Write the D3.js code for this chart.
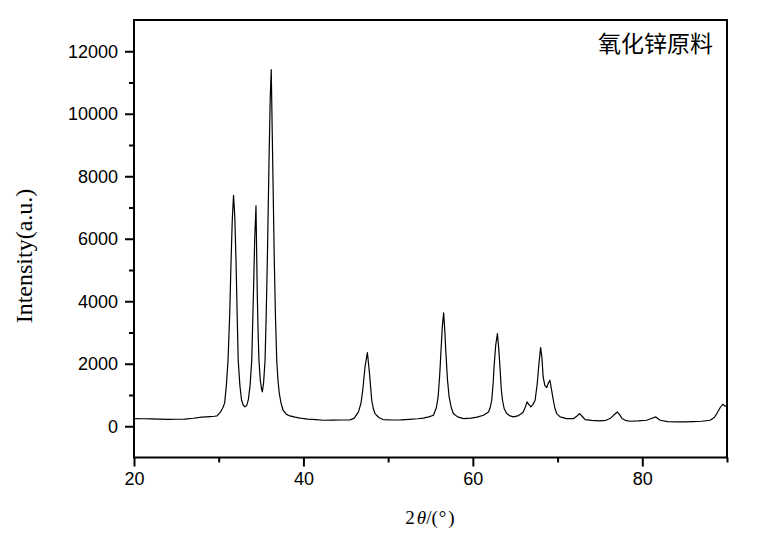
<!DOCTYPE html>
<html>
<head>
<meta charset="utf-8">
<script src="https://cdn.jsdelivr.net/npm/d3@7"></script>
<style>
  html, body { margin: 0; padding: 0; background: #fff; }
  svg { display: block; }
</style>
</head>
<body>
<svg id="chart" width="784" height="542"></svg>
<script>
// ---- data ----
const twoTheta = [
  20.0, 21.0, 22.0, 23.0, 24.0, 25.0, 26.0, 27.0, 28.0, 28.5, 29.0, 29.5, 29.8, 30.2, 30.5, 30.7, 30.9, 31.1, 31.3, 31.46,
  31.6, 31.75, 31.9, 32.04, 32.2, 32.3, 32.5, 32.7, 32.9, 33.1, 33.3, 33.5, 33.7, 33.9, 34.1, 34.25, 34.4, 34.55, 34.65, 34.75,
  34.9, 35.05, 35.15, 35.3, 35.47, 35.6, 35.74, 35.94, 36.08, 36.2, 36.37, 36.56, 36.7, 36.85, 37.0, 37.15, 37.35, 37.6, 38.0, 38.4,
  39.0, 39.6, 40.5, 41.5, 42.35, 43.5, 44.5, 45.5, 46.0, 46.5, 46.8, 47.0, 47.27, 47.55, 47.8, 48.06, 48.25, 48.45, 48.9, 49.4,
  50.5, 51.5, 52.5, 53.5, 54.15, 54.8, 55.35, 55.7, 55.9, 56.1, 56.24, 56.4, 56.55, 56.7, 56.8, 57.0, 57.2, 57.45, 57.7, 58.2,
  58.9, 59.8, 60.5, 61.25, 61.85, 62.05, 62.23, 62.4, 62.5, 62.7, 62.9, 63.05, 63.2, 63.35, 63.5, 63.7, 64.0, 64.4, 64.8, 65.3,
  65.7, 65.95, 66.2, 66.4, 66.6, 66.85, 67.1, 67.35, 67.6, 67.8, 68.0, 68.15, 68.3, 68.5, 68.72, 68.9, 69.1, 69.3, 69.5, 69.7,
  69.9, 70.3, 71.06, 71.9, 72.3, 72.6, 72.9, 73.25, 74.0, 75.0, 75.7, 76.2, 76.6, 77.05, 77.3, 77.6, 78.0, 78.55, 79.5, 80.5,
  81.0, 81.6, 82.1, 83.0, 84.1, 85.0, 86.0, 87.0, 88.0, 88.5, 88.8, 89.2, 89.5, 89.8, 90.0
];
const intensity = [
  246, 240, 235, 230, 220, 224, 230, 256, 290, 300, 310, 320, 330, 450, 600, 740, 1300, 2110, 3600, 5310,
  6600, 7390, 6700, 5310, 3300, 2110, 1300, 830, 680, 620, 660, 850, 1300, 2110, 4260, 6000, 7050, 4260, 3000, 2110,
  1500, 1200, 1100, 1400, 2110, 3500, 5310, 8510, 10500, 11410, 8510, 5310, 3500, 2110, 1450, 1056, 750, 512, 380, 330,
  290, 260, 230, 210, 192, 195, 200, 205, 260, 458, 750, 1152, 1898, 2360, 1686, 832, 560, 406, 280, 214,
  200, 205, 220, 240, 260, 300, 352, 600, 938, 1700, 2432, 3200, 3627, 3000, 2432, 1500, 938, 600, 406, 300,
  246, 260, 290, 352, 458, 600, 832, 1400, 1898, 2600, 2966, 2500, 1898, 1200, 832, 560, 406, 330, 298, 330,
  400, 458, 620, 778, 700, 618, 700, 832, 1366, 2000, 2518, 2200, 1578, 1300, 1238, 1380, 1472, 1150, 832, 560,
  406, 298, 246, 246, 330, 406, 320, 214, 190, 170, 190, 246, 350, 458, 380, 246, 190, 160, 170, 192,
  240, 298, 192, 150, 138, 140, 150, 160, 192, 280, 406, 600, 704, 640, 650
];
const xMajorTicks = [20, 40, 60, 80];
const xMinorTicks = [30, 50, 70, 90];
const yMajorTicks = [0, 2000, 4000, 6000, 8000, 10000, 12000];
const yMinorTicks = [1000, 3000, 5000, 7000, 9000, 11000];
const xDomain = [20, 90];
const yDomain = [-1000, 13000];
const legendText = "氧化锌原料";
const yTitle = "Intensity(a.u.)";

(function () {
  // ---- layout ----
  const pLeft = 134, pRight = 727, pTop = 20, pBottom = 457.5;
  const svg = d3.select("#chart");
  svg.append("rect").attr("width", 784).attr("height", 542).attr("fill", "#fff");

  const x = d3.scaleLinear().domain(xDomain).range([pLeft, pRight]);
  const y = d3.scaleLinear().domain(yDomain).range([pBottom, pTop]);

  const sansFont = "'Liberation Sans', Arial, sans-serif";
  const serifFont = "'Liberation Serif', 'Times New Roman', serif";

  // data line
  const pts = twoTheta.map((t, i) => [t, intensity[i]]);
  svg.append("path")
    .datum(pts)
    .attr("fill", "none")
    .attr("stroke", "#000")
    .attr("stroke-width", 1.2)
    .attr("stroke-linejoin", "round")
    .attr("d", d3.line().x(d => x(d[0])).y(d => y(d[1])));

  // bottom axis
  const gx = svg.append("g").attr("transform", `translate(0,${pBottom})`)
    .call(d3.axisBottom(x).tickValues(xMajorTicks).tickSize(9).tickSizeOuter(0).tickPadding(5).tickFormat(d3.format("d")));
  const gxMinor = svg.append("g").attr("transform", `translate(0,${pBottom})`)
    .call(d3.axisBottom(x).tickValues(xMinorTicks).tickSize(5).tickSizeOuter(0).tickFormat(""));
  // left axis
  const gy = svg.append("g").attr("transform", `translate(${pLeft},0)`)
    .call(d3.axisLeft(y).tickValues(yMajorTicks).tickSize(9).tickSizeOuter(0).tickPadding(7).tickFormat(d3.format("d")));
  const gyMinor = svg.append("g").attr("transform", `translate(${pLeft},0)`)
    .call(d3.axisLeft(y).tickValues(yMinorTicks).tickSize(5).tickSizeOuter(0).tickFormat(""));

  [gx, gxMinor, gy, gyMinor].forEach(g => {
    g.selectAll(".domain").remove();
    g.selectAll(".tick line").attr("stroke", "#000").attr("stroke-width", 2);
    g.selectAll(".tick text").attr("fill", "#000").style("font-family", sansFont).style("font-size", "18px");
  });
  gx.selectAll(".tick text").attr("dy", "0.75em");

  // frame
  svg.append("rect")
    .attr("x", pLeft).attr("y", pTop)
    .attr("width", pRight - pLeft).attr("height", pBottom - pTop)
    .attr("fill", "none").attr("stroke", "#000").attr("stroke-width", 2);

  // legend text
  svg.append("text")
    .attr("x", 598).attr("y", 51.5)
    .style("font-family", "'Noto Sans CJK SC', sans-serif")
    .style("font-size", "23px")
    .attr("fill", "#000")
    .text(legendText);

  // y title
  svg.append("text")
    .attr("transform", "translate(32,256) rotate(-90)")
    .attr("text-anchor", "middle")
    .style("font-family", serifFont)
    .style("font-size", "24px")
    .attr("fill", "#000")
    .text(yTitle);

  // x title
  const xt = svg.append("text")
    .attr("x", 430).attr("y", 523.5)
    .attr("text-anchor", "middle")
    .style("font-family", serifFont)
    .style("font-size", "19px")
    .attr("fill", "#000");
  xt.append("tspan").text("2");
  xt.append("tspan").attr("dx", 2).style("font-style", "italic").text("θ");
  xt.append("tspan").text("/(");
  xt.append("tspan").attr("dx", 1).text("°");
  xt.append("tspan").attr("dx", 2).text(")");
})();
</script>
</body>
</html>
